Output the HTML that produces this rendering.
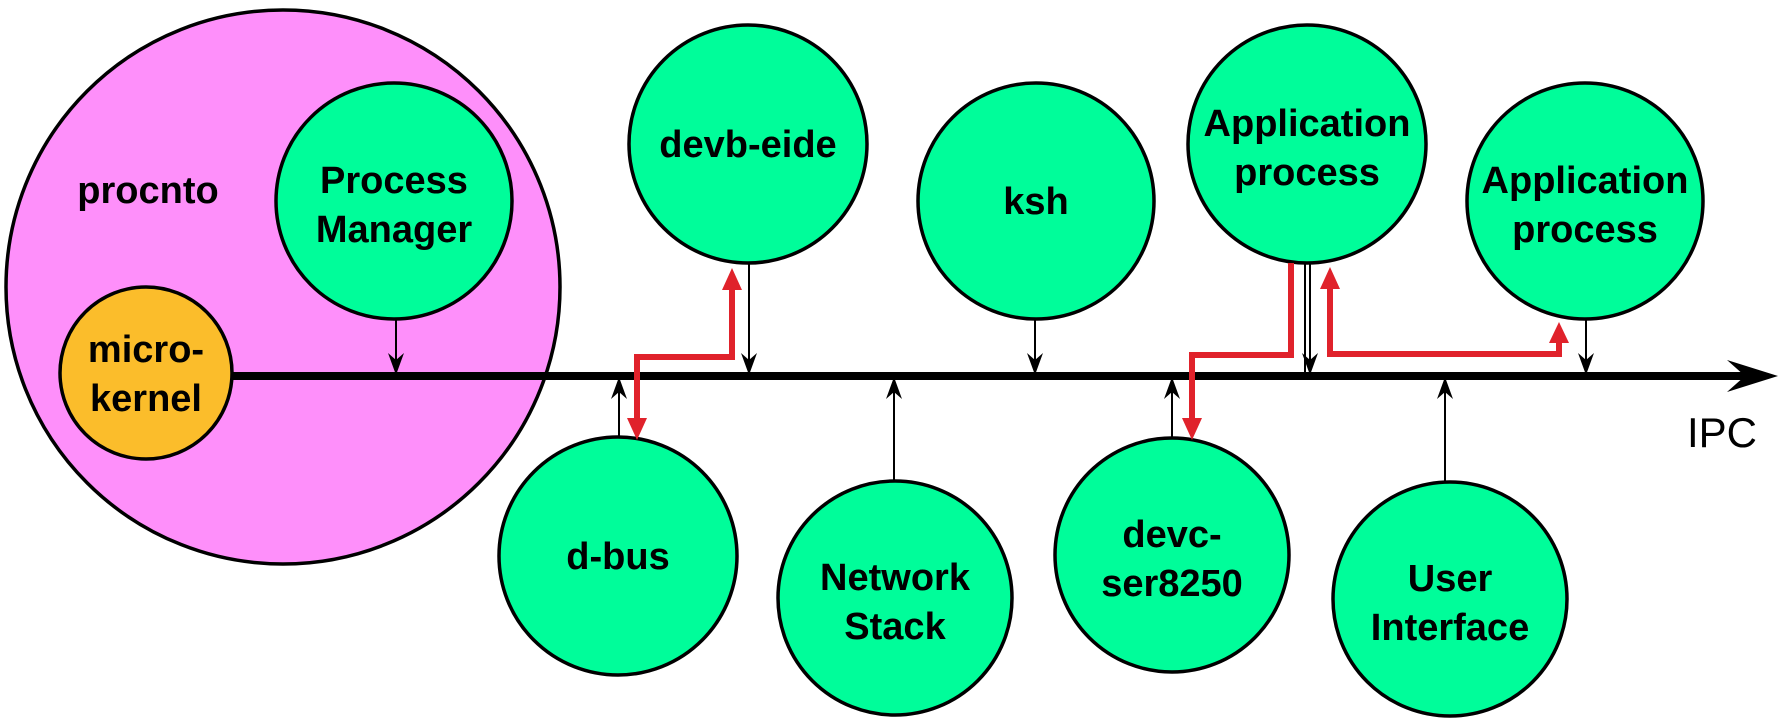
<!DOCTYPE html>
<html><head><meta charset="utf-8"><style>
html,body{margin:0;padding:0;background:#fff;}
svg{display:block;}
text{font-family:"Liberation Sans",sans-serif;font-weight:bold;fill:#000;text-anchor:middle;}
</style></head><body>
<svg width="1781" height="727" viewBox="0 0 1781 727">
<defs>
<marker id="ba" viewBox="0 0 22 16" refX="21" refY="8" markerWidth="22" markerHeight="16" markerUnits="userSpaceOnUse" orient="auto">
<path d="M0,0 L22,8 L0,16 L7,8 Z" fill="#000"/>
</marker>
</defs>
<!-- procnto -->
<circle cx="283" cy="287" r="277" fill="#fe8ffa" stroke="#000" stroke-width="3.5"/>
<text x="148" y="203" font-size="38">procnto</text>
<!-- process manager -->
<circle cx="394" cy="201" r="118" fill="#00fd9a" stroke="#000" stroke-width="3.5"/>
<text x="394" y="193" font-size="38">Process</text>
<text x="394" y="242" font-size="38">Manager</text>
<!-- microkernel -->
<circle cx="146" cy="373" r="86" fill="#fbbd2b" stroke="#000" stroke-width="3.5"/>
<text x="146" y="362" font-size="38">micro-</text>
<text x="146" y="411" font-size="38">kernel</text>
<!-- bus -->
<line x1="232" y1="376" x2="1760" y2="376" stroke="#000" stroke-width="8"/>
<path d="M1727,360 L1778,376 L1727,392 L1745,376 Z" fill="#000"/>
<text x="1722" y="447" font-size="42" style="font-weight:normal">IPC</text>
<!-- top circles -->
<circle cx="748" cy="144" r="119" fill="#00fd9a" stroke="#000" stroke-width="3.5"/>
<text x="748" y="157" font-size="38">devb-eide</text>
<circle cx="1036" cy="201" r="118" fill="#00fd9a" stroke="#000" stroke-width="3.5"/>
<text x="1036" y="214" font-size="38">ksh</text>
<circle cx="1307" cy="144" r="119" fill="#00fd9a" stroke="#000" stroke-width="3.5"/>
<text x="1307" y="136" font-size="38">Application</text>
<text x="1307" y="185" font-size="38">process</text>
<circle cx="1585" cy="201" r="118" fill="#00fd9a" stroke="#000" stroke-width="3.5"/>
<text x="1585" y="193" font-size="38">Application</text>
<text x="1585" y="242" font-size="38">process</text>
<!-- bottom circles -->
<circle cx="618" cy="556" r="119" fill="#00fd9a" stroke="#000" stroke-width="3.5"/>
<text x="618" y="569" font-size="38">d-bus</text>
<circle cx="895" cy="598" r="117" fill="#00fd9a" stroke="#000" stroke-width="3.5"/>
<text x="895" y="590" font-size="38">Network</text>
<text x="895" y="639" font-size="38">Stack</text>
<circle cx="1172" cy="555" r="117" fill="#00fd9a" stroke="#000" stroke-width="3.5"/>
<text x="1172" y="547" font-size="38">devc-</text>
<text x="1172" y="596" font-size="38">ser8250</text>
<circle cx="1450" cy="599" r="117" fill="#00fd9a" stroke="#000" stroke-width="3.5"/>
<text x="1450" y="591" font-size="38">User</text>
<text x="1450" y="640" font-size="38">Interface</text>
<!-- black arrows -->
<g stroke="#000" stroke-width="2" fill="none">
<line x1="396" y1="319" x2="396" y2="374" marker-end="url(#ba)"/>
<line x1="749" y1="263" x2="749" y2="374" marker-end="url(#ba)"/>
<line x1="1035" y1="319" x2="1035" y2="374" marker-end="url(#ba)"/>
<line x1="1305" y1="263" x2="1305" y2="374"/>
<line x1="1310" y1="263" x2="1310" y2="374" marker-end="url(#ba)"/>
<line x1="1586" y1="319" x2="1586" y2="374" marker-end="url(#ba)"/>
<line x1="619" y1="438" x2="619" y2="378" marker-end="url(#ba)"/>
<line x1="894" y1="481" x2="894" y2="378" marker-end="url(#ba)"/>
<line x1="1172" y1="438" x2="1172" y2="378" marker-end="url(#ba)"/>
<line x1="1445" y1="482" x2="1445" y2="378" marker-end="url(#ba)"/>
</g>
<!-- red arrows -->
<g stroke="#e0222b" stroke-width="6" fill="none" stroke-linejoin="miter">
<path d="M637,420 L637,357 L732,357 L732,288" />
<path d="M1291,263 L1291,355 L1192,355 L1192,420"/>
<path d="M1330,287 L1330,354 L1559,354 L1559,340"/>
</g>
<g fill="#e0222b">
<path d="M627,418 L647,418 L637,440 Z"/>
<path d="M722,290 L742,290 L732,268 Z"/>
<path d="M1182,418 L1202,418 L1192,440 Z"/>
<path d="M1320,289 L1340,289 L1330,267 Z"/>
<path d="M1549,343 L1569,343 L1559,322 Z"/>
</g>
</svg>
</body></html>
